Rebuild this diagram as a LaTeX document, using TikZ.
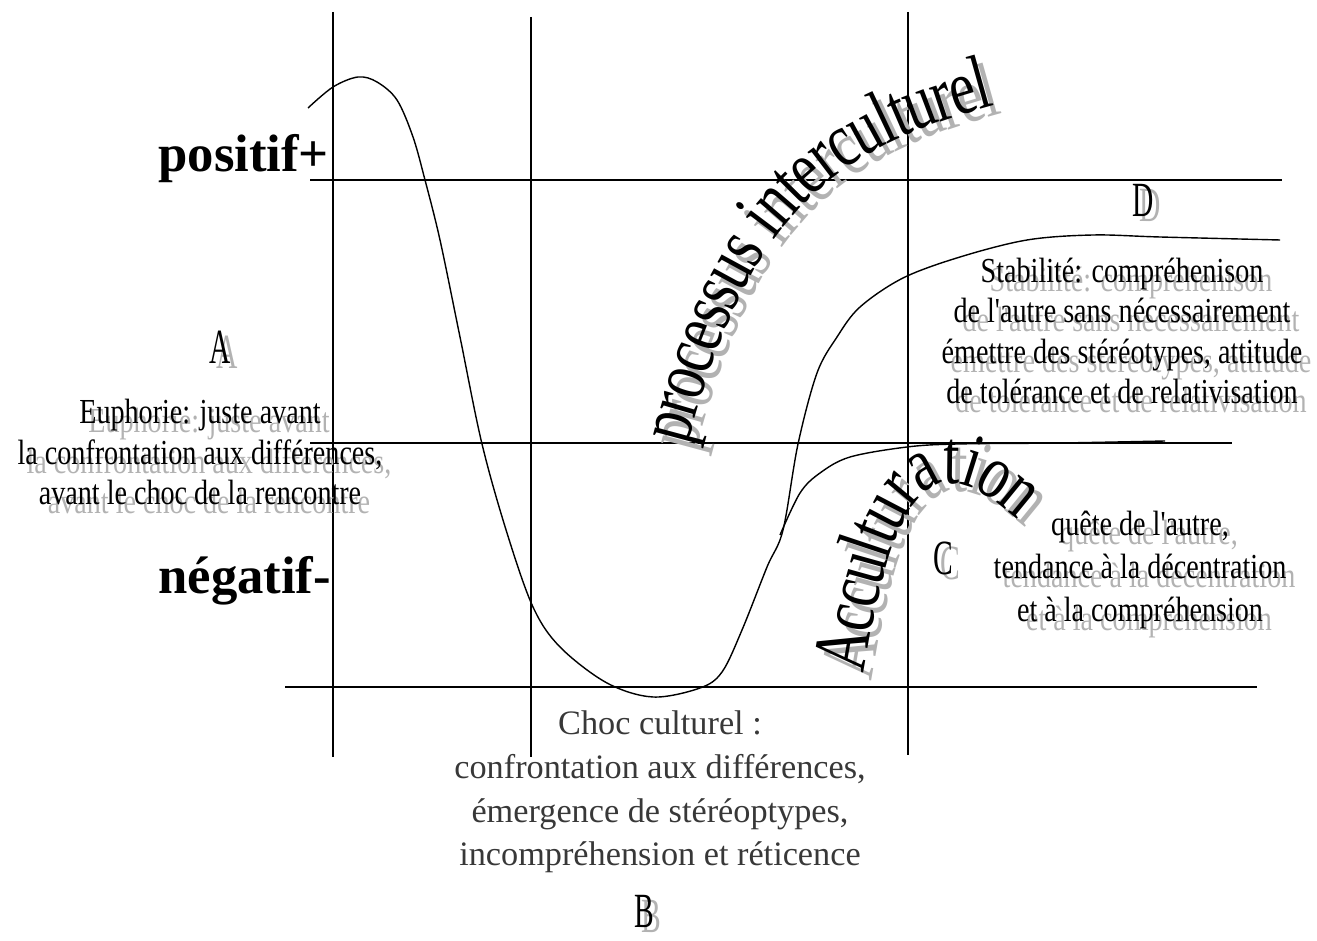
\documentclass[tikz,border=0pt]{standalone}
\usepackage{fontspec}
\setmainfont{Liberation Serif}
\newfontfamily\narrowfont{Liberation Serif}[FakeStretch=0.8]
\newfontfamily\letterfont{Liberation Serif}[FakeStretch=0.6]
\newfontfamily\curvefont{Liberation Serif}[FakeStretch=0.75]
\usetikzlibrary{decorations.text}

\begin{document}
\begin{tikzpicture}[x=0.02cm, y=0.02cm,
  grid/.style={line width=0.8pt},
  curve/.style={line width=0.8pt},
  txt/.style={align=center, inner sep=0pt, font=\narrowfont\fontsize{20}{23}\selectfont},
  letter/.style={inner sep=0pt, font=\letterfont\fontsize{28}{30}\selectfont},
  axis/.style={anchor=base west, inner sep=0pt, font=\bfseries\fontsize{30}{32}\selectfont},
  shadowtxt/.style={text=black!30, xshift=0.18cm, yshift=-0.18cm},
  shadowlet/.style={text=black!30, xshift=0.15cm, yshift=-0.1cm},
  arctitle/.style 2 args={decorate, decoration={text effects along path, text={#1},
    text effects/.cd, text along path,
    characters={inner sep=0pt, text=#2, font=\curvefont\fontsize{44}{46}\selectfont},
    character widths={inner xsep=0pt, font=\curvefont\fontsize{41}{43}\selectfont}}}]
  \useasboundingbox (0,0) rectangle (1317,940);

  % Grid
  \draw[grid] (333,928) -- (333,183);
  \draw[grid] (531,923) -- (531,183);
  \draw[grid] (908,928) -- (908,185);
  \draw[grid] (310,760) -- (1282,760);
  \draw[grid] (310,497) -- (1232,497);
  \draw[grid] (285,253) -- (1257,253);

  % Curves
  \draw[curve] plot[smooth, tension=0.55] coordinates {(308,832) (333,853) (358,863) (377,858) (397,840) (413,803) (425,760) (440,700) (460,603) (482,496) (507,407) (533,333) (560,293) (607,257) (653,243) (700,252) (722,268) (742,310) (767,373) (783,410) (798,496) (817,567) (837,603) (860,633) (903,662) (960,683) (1027,700) (1093,705) (1160,703) (1280,700)};
  \draw[curve] plot[smooth, tension=0.55] coordinates {(780,405) (800,447) (820,467) (850,483) (907,493) (957,496) (1060,497) (1165,499)};

  % Axis labels
  \node[axis] (pos) at (158,768) {positif+};
  \node[axis] (neg) at (158,347) {négatif-};

  % Curved titles
  \path[arctitle={processus interculturel}{black!30}, xshift=0.16cm, yshift=-0.16cm] (688,495) .. controls (750,737) and (845,794) .. (995,835);
  \path[arctitle={processus interculturel}{black}] (688,495) .. controls (750,737) and (845,794) .. (995,835);
  \path[arctitle={Acculturation}{black!30}, xshift=0.16cm, yshift=-0.16cm] (864,268) .. controls (895,460) and (935,495) .. (1018,420);
  \path[arctitle={Acculturation}{black}] (864,268) .. controls (895,460) and (935,495) .. (1018,420);

  % Phase letters
  \node[letter, shadowlet] (A-s) at (220,593) {A};
  \node[letter] (A) at (220,593) {A};
  \node[letter, shadowlet] (B-s) at (644,29) {B};
  \node[letter] (B) at (644,29) {B};
  \node[letter, shadowlet] (C-s) at (943,382) {C};
  \node[letter] (C) at (943,382) {C};
  \node[letter, shadowlet] (D-s) at (1143,740) {D};
  \node[letter] (D) at (1143,740) {D};

  % Phase texts
  \node[txt, shadowtxt] (euph-s) at (200,488) {Euphorie: juste avant\\la confrontation aux différences,\\avant le choc de la rencontre};
  \node[txt] (euph) at (200,488) {Euphorie: juste avant\\la confrontation aux différences,\\avant le choc de la rencontre};
  \node[txt, shadowtxt] (stab-s) at (1122,609) {Stabilité: compréhenison\\de l'autre sans nécessairement\\émettre des stéréotypes, attitude\\de tolérance et de relativisation};
  \node[txt] (stab) at (1122,609) {Stabilité: compréhenison\\de l'autre sans nécessairement\\émettre des stéréotypes, attitude\\de tolérance et de relativisation};
  \node[txt, shadowtxt, font=\narrowfont\fontsize{20}{24.5}\selectfont] (quete-s) at (1140,370) {quête de l'autre,\\tendance à la décentration\\et à la compréhension};
  \node[txt, font=\narrowfont\fontsize{20}{24.5}\selectfont] (quete) at (1140,370) {quête de l'autre,\\tendance à la décentration\\et à la compréhension};
  \node[txt, text=black!78, font=\fontsize{19.5}{24.8}\selectfont] (choc) at (660,148) {Choc culturel :\\confrontation aux différences,\\émergence de stéréoptypes,\\incompréhension et réticence};
\end{tikzpicture}
\end{document}
